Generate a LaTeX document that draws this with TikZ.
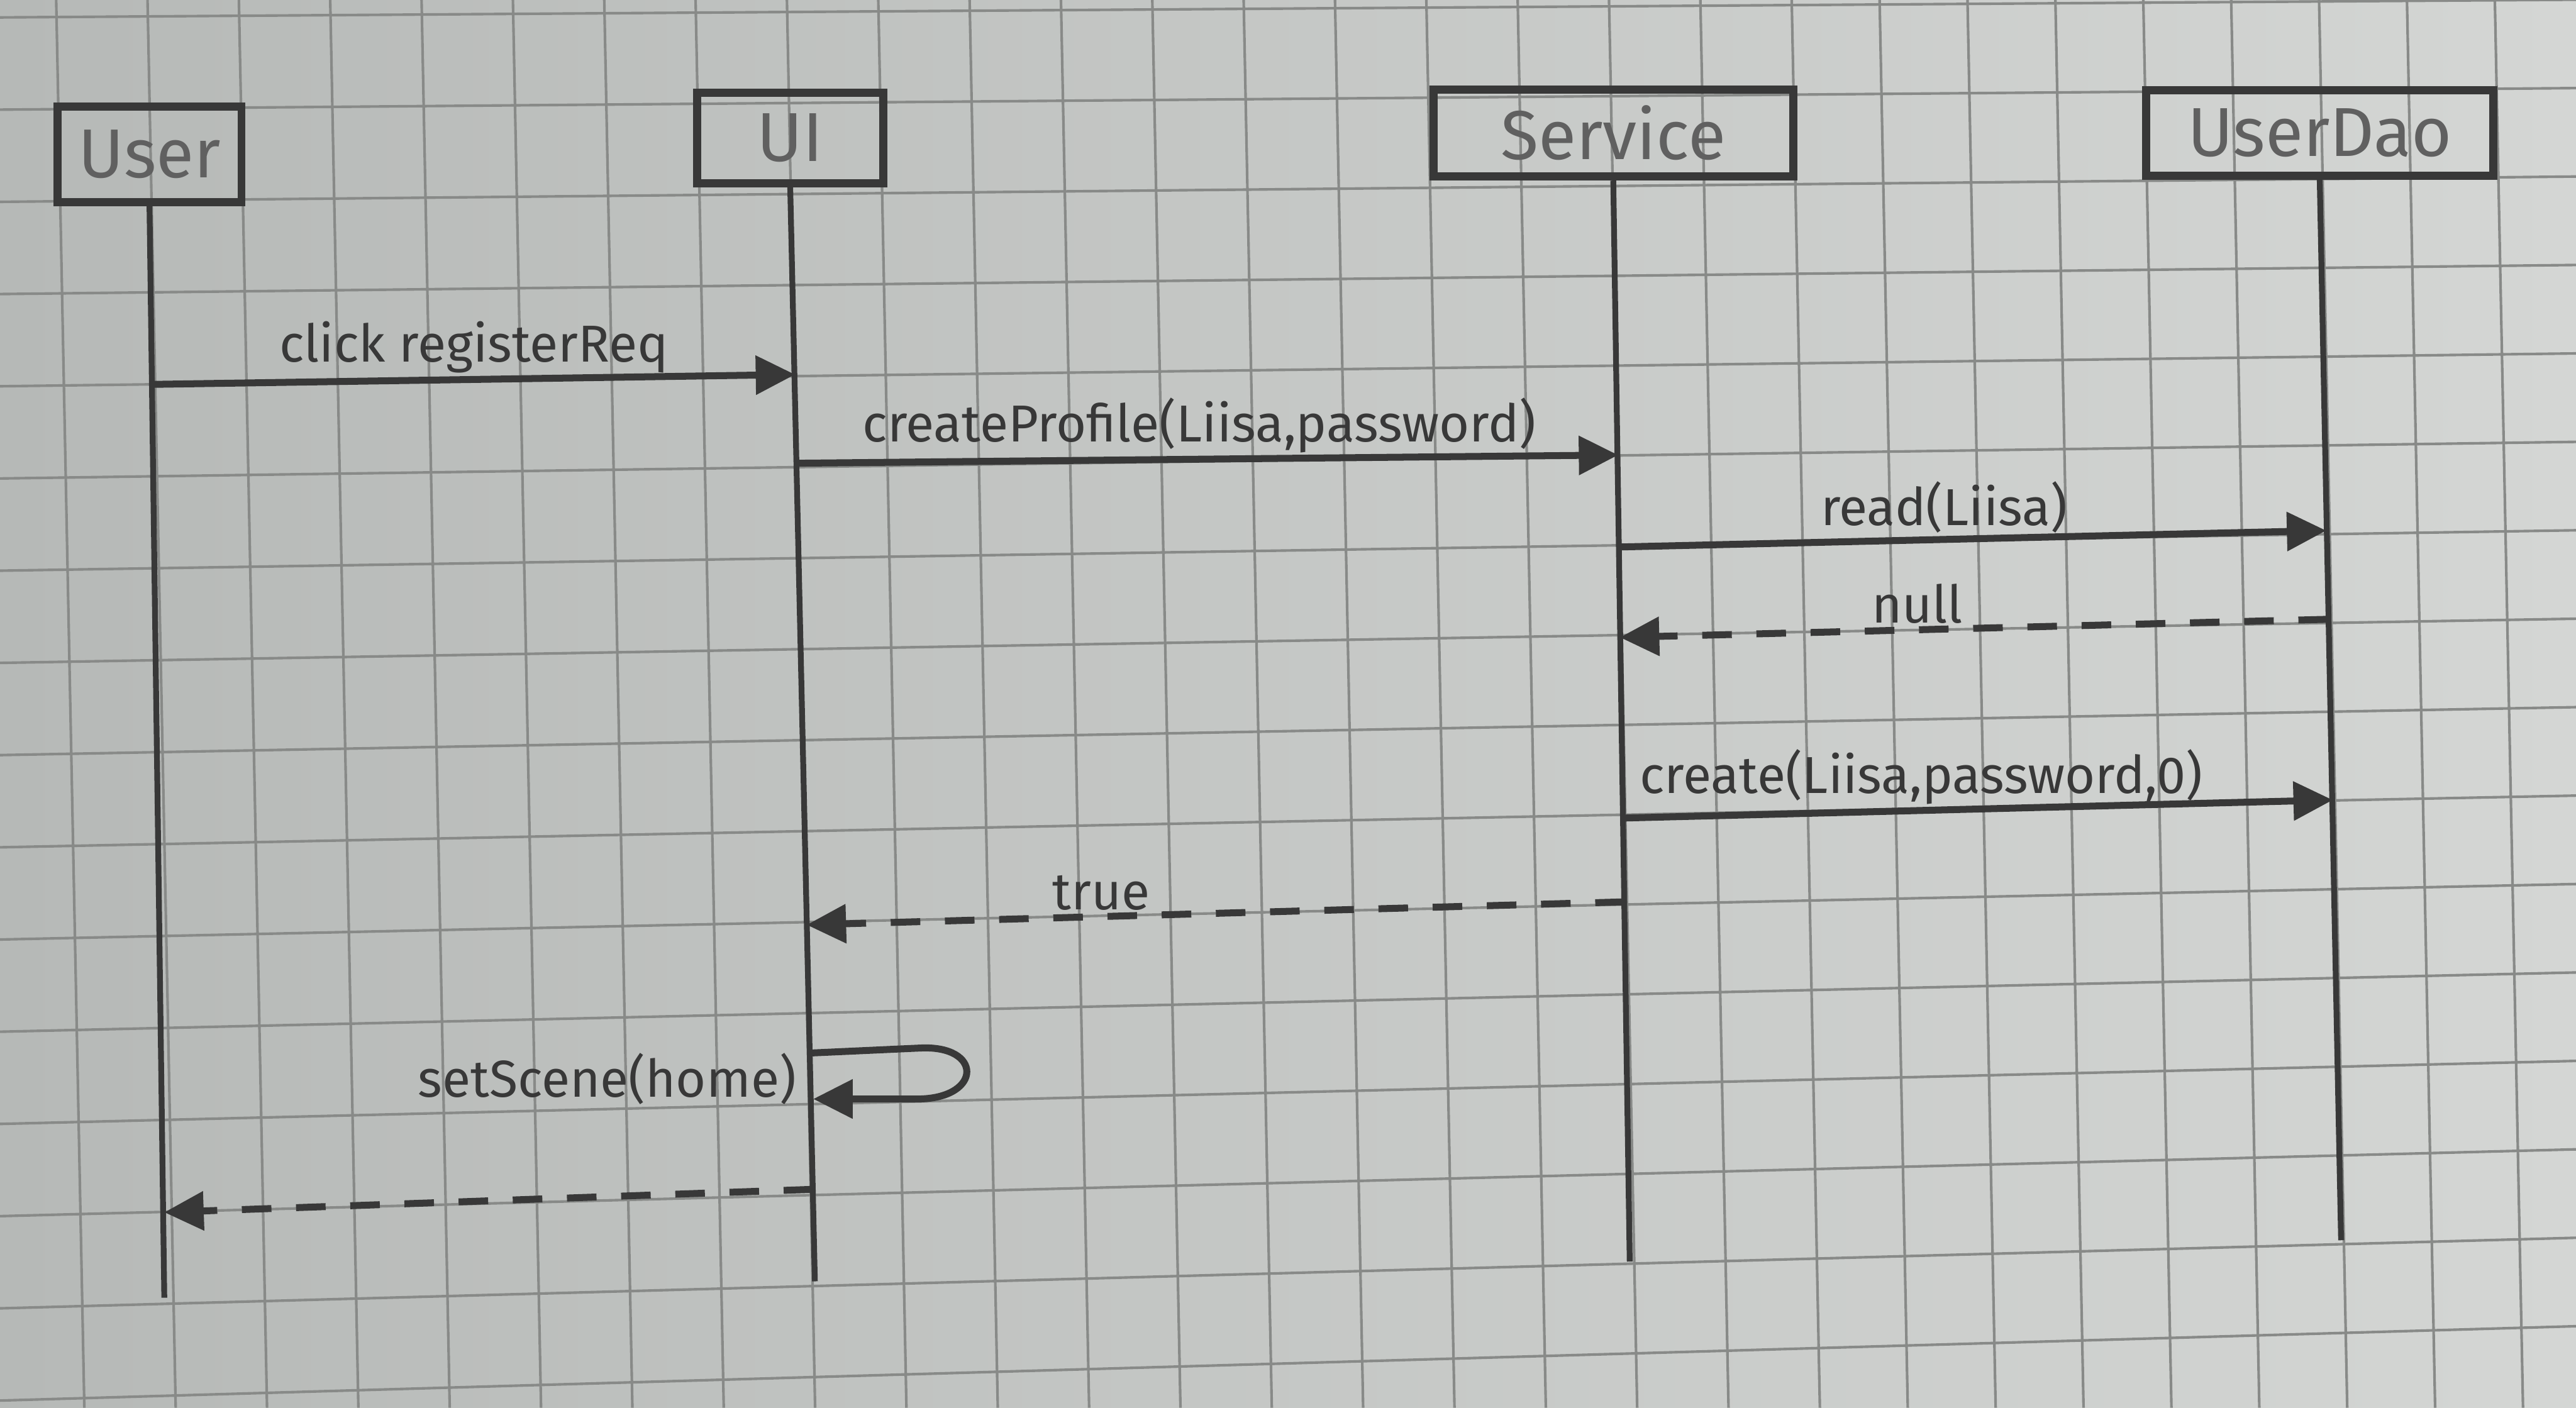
\documentclass[tikz,border=0pt]{standalone}
\usepackage{fontspec}
\setmainfont{Fira Sans}
\usetikzlibrary{arrows.meta,positioning}

\definecolor{paperA}{RGB}{182,185,183}
\definecolor{paperB}{RGB}{212,214,212}
\definecolor{gridgray}{RGB}{136,138,136}
\definecolor{pencil}{RGB}{56,56,56}

\tikzset{
  actor/.style={draw=pencil, line width=1.4pt, inner sep=0pt, text=pencil!80, font=\large},
  lifeline/.style={draw=pencil, line width=1pt},
  msg/.style={draw=pencil, line width=1.2pt, -{Triangle[length=2.4mm,width=2.3mm]}},
  reply/.style={msg, dash pattern=on 1.8mm off 1.5mm},
  msglabel/.style={text=pencil, font=\small, inner sep=0.5pt},
  gridline/.style={draw=gridgray, line width=0.45pt}
}

\begin{document}
\begin{tikzpicture}[x=0.1mm,y=-0.1mm]
        % Papir og rutenett
        \shade[left color=paperA, right color=paperB] (0,0) rectangle (1568,857);
        \useasboundingbox (0,0) rectangle (1568,857);
        \foreach \i in {-1,...,28} {
            \pgfmathsetmacro\gx{36+55.6*\i-2.1*max(0,\i-19)}
            \draw[gridline] ({\gx-0.02*90},0) -- ({\gx+0.02*767},857);
        }
        \foreach \j in {0,...,16} {
            \pgfmathsetmacro\yl{10+56*\j}
            \pgfmathsetmacro\yr{2+54.3*\j}
            \pgfmathsetmacro\m{(\yr-\yl)/1160}
            \draw[gridline] (0,{\yl-90*\m}) -- (1568,{\yl+1478*\m});
        }

        % Objekter
        \node[actor, minimum width=11.2mm, minimum height=5.8mm] (user) at (91,94) {User};
        \node[actor, minimum width=11.3mm, minimum height=5.5mm] (ui) at (481,84) {UI};
        \node[actor, minimum width=21.9mm, minimum height=5.3mm] (service) at (982,81) {Service};
        \node[actor, minimum width=21.1mm, minimum height=5.2mm] (userdao) at (1412,81) {UserDao};

        % Livslinjer
        \coordinate (userend) at (100,790);
        \coordinate (uiend) at (496,780);
        \coordinate (serviceend) at (992,768);
        \coordinate (userdaoend) at (1425,755);
        \draw[lifeline] (user.south) -- (userend);
        \draw[lifeline] (ui.south) -- (uiend);
        \draw[lifeline] (service.south) -- (serviceend);
        \draw[lifeline] (userdao.south) -- (userdaoend);

        % click registerReq
        \coordinate (m1s) at (93,234);
        \coordinate (m1e) at (484,228);
        \draw[msg] (m1s) -- (m1e) node[msglabel, midway, anchor=south] (l1) {click registerReq};

        % createProfile
        \coordinate (m2s) at (485,282);
        \coordinate (m2e) at (985,277);
        \draw[msg] (m2s) -- (m2e) node[msglabel, pos=0.49, anchor=south] (l2) {createProfile(Liisa,password)};

        % read
        \coordinate (m3s) at (985,333);
        \coordinate (m3e) at (1416,323);
        \draw[msg] (m3s) -- (m3e) node[msglabel, pos=0.46, anchor=south] (l3) {read(Liisa)};

        % null
        \coordinate (m4s) at (1417,377);
        \coordinate (m4e) at (986,388);
        \draw[reply] (m4s) -- (m4e) node[msglabel, pos=0.58, anchor=south] (l4) {null};

        % create
        \coordinate (m5s) at (988,498);
        \coordinate (m5e) at (1420,487);
        \draw[msg] (m5s) -- (m5e) node[msglabel, pos=0.42, anchor=south] (l5) {create(Liisa,password,0)};

        % true
        \coordinate (m6s) at (989,549);
        \coordinate (m6e) at (491,563);
        \draw[reply] (m6s) -- (m6e) node[msglabel, pos=0.64, anchor=south] (l6) {true};

        % setScene (til seg selv)
        \coordinate (s1) at (494,641);
        \coordinate (s2) at (495,669);
        \draw[msg] (s1) -- (560,638) .. controls (598,636) and (598,668) .. (560,669) -- (s2);
        \node[msglabel, anchor=base east] (l7) at (487,668) {setScene(home)};

        % Tilbake til brukeren
        \coordinate (r1) at (495,724);
        \coordinate (r2) at (100,738);
        \draw[reply] (r1) -- (r2);
    \end{tikzpicture}
\end{document}
